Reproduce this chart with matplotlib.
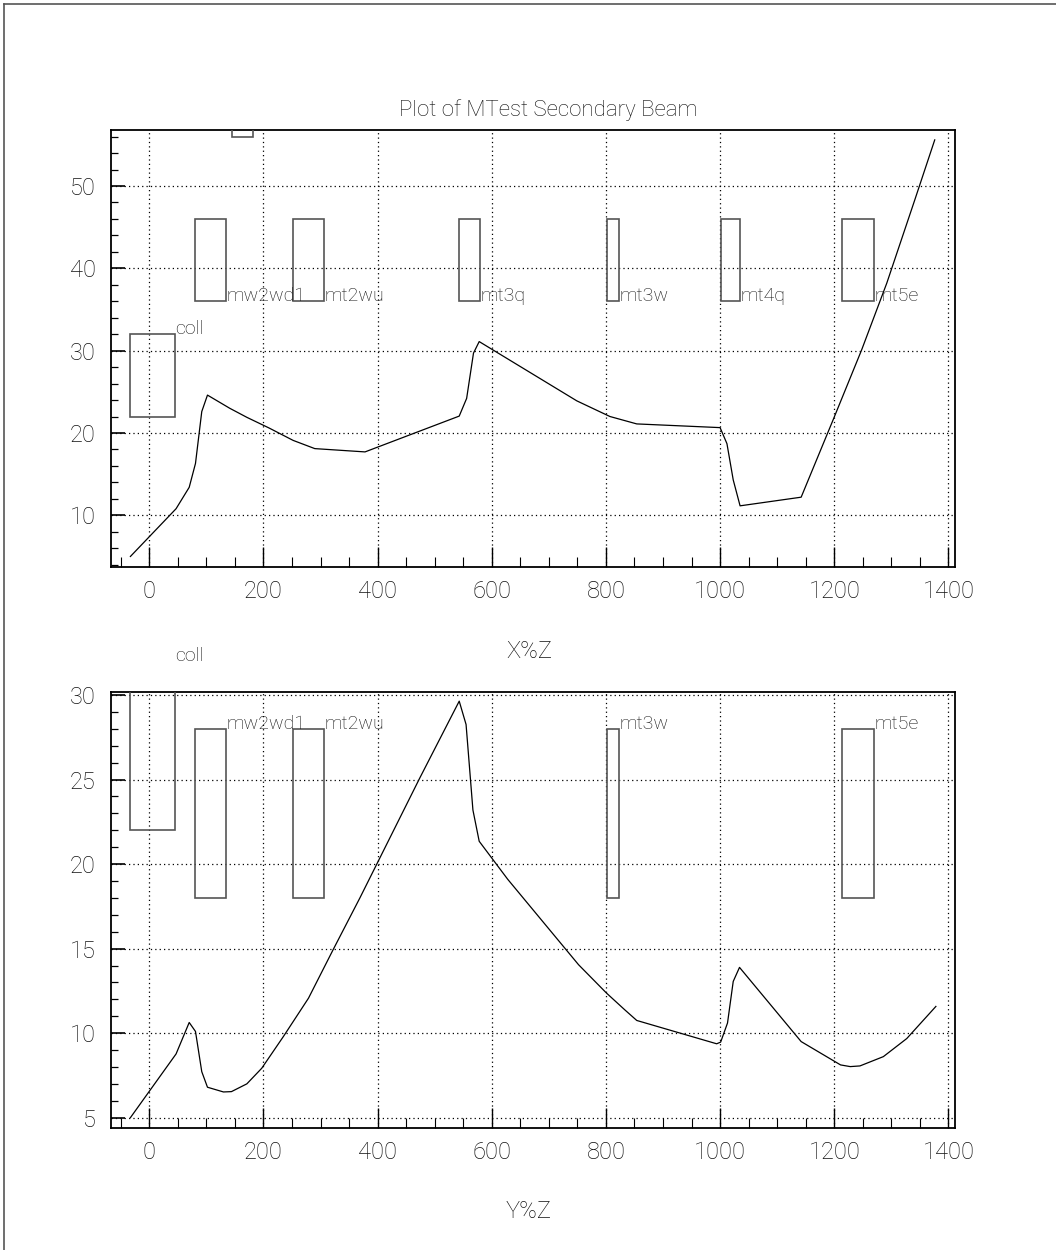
import matplotlib
matplotlib.use("Agg")
import matplotlib.pyplot as plt
from matplotlib.patches import Rectangle
from matplotlib.lines import Line2D
import numpy as np

plt.rcParams['font.family'] = ['Roboto', 'DejaVu Sans']
plt.rcParams['font.weight'] = 'light'

# ---- beam envelope data ----
zx = [-33, 47, 70, 81, 92, 102, 141, 171, 210, 252, 290, 378, 543, 556, 568, 578,
      749, 807, 854, 1000, 1012, 1023, 1035, 1142, 1198, 1248, 1292, 1341, 1376]
xz = [5.0, 10.8, 13.4, 16.3, 22.6, 24.6, 23.0, 21.9, 20.6, 19.1, 18.1, 17.7, 22.05, 24.2, 29.7, 31.1,
      23.9, 22.0, 21.1, 20.65, 18.7, 14.3, 11.15, 12.2, 21.6, 30.1, 38.2, 48.3, 55.6]

zy = [-33, 47, 70, 81, 92, 102, 130, 144, 171, 197, 235, 279, 322, 369, 474, 543, 555, 567, 578,
      628, 752, 801, 833, 854, 994, 1001, 1013, 1023, 1034, 1142, 1211, 1228, 1245, 1286, 1327, 1378]
yz = [5.0, 8.77, 10.63, 10.1, 7.72, 6.8, 6.52, 6.54, 7.0, 7.92, 9.8, 12.07, 14.93, 18.0, 25.1, 29.64, 28.26, 23.2, 21.35,
      19.1, 14.05, 12.37, 11.38, 10.75, 9.37, 9.47, 10.6, 13.06, 13.89, 9.5, 8.12, 8.02, 8.06, 8.61, 9.68, 11.58]

# ---- beam-line elements ----
elem_names = ["coll", "mw2wd1", "mt2wu", "mt3q", "mt3w", "mt4q", "mt5e", ""]
elem_zlo = [-33, 81, 252, 543, 802, 1001, 1213, 145]
elem_zhi = [45, 134, 306, 579, 823, 1034, 1270, 181]
# X view apertures (lo, hi) and label height
x_lo = [22, 36, 36, 36, 36, 36, 36, 55.9]
x_hi = [32, 46, 46, 46, 46, 46, 46, 66]
x_lab = [32, 36, 36, 36, 36, 36, 36, None]
# Y view apertures (None = not drawn)
y_lo = [22, 18, 18, None, 18, None, 18, None]
y_hi = [32, 28, 28, None, 28, None, 28, None]
y_lab = [32, 28, 28, None, 28, None, 28, None]

title = "Plot of MTest Secondary Beam"
xlabel_top = "X%Z"
xlabel_bot = "Y%Z"

W, H = 1056, 1250
fig = plt.figure(figsize=(W / 100, H / 100), dpi=100)

def px2fig(x0, y0, x1, y1):
    return [x0 / W, 1 - y1 / H, (x1 - x0) / W, (y1 - y0) / H]

ax1 = fig.add_axes(px2fig(111, 130, 955, 567))
ax2 = fig.add_axes(px2fig(111, 691.7, 955, 1128.3))

XLIM = (-67, 1411.5)
BOXC = '#555555'
LBL_FS = 14
TICK_FS = 17

def style(ax, ymaj, ymin_, ylim):
    ax.set_xlim(*XLIM)
    ax.set_ylim(*ylim)
    ax.set_xticks(np.arange(0, 1401, 200))
    ax.set_xticks(np.arange(-50, 1401, 50), minor=True)
    ax.set_yticks(ymaj)
    ax.set_yticks(ymin_, minor=True)
    ax.tick_params(axis='x', which='major', direction='in', length=14.4, width=1.0,
                   labelsize=TICK_FS, pad=9, top=False, labelcolor='#111111')
    ax.tick_params(axis='x', which='minor', direction='in', length=7.2, width=0.8, top=False)
    ax.tick_params(axis='y', which='major', direction='in', length=10, width=1.2,
                   labelsize=TICK_FS, pad=11, right=False, labelcolor='#111111')
    ax.tick_params(axis='y', which='minor', direction='in', length=5, width=0.9, right=False)
    for s in ax.spines.values():
        s.set_linewidth(1.3)
    ax.grid(True, which='major', color='black', linestyle=(0, (1, 2.5)), linewidth=0.9)
    ax.set_axisbelow(False)

style(ax1, np.arange(10, 51, 10), np.arange(4, 57, 2), (3.72, 56.8))
style(ax2, np.arange(5, 31, 5), np.arange(5, 31, 1), (4.37, 30.2))

ax1.plot(zx, xz, color='black', linewidth=0.9, zorder=5)
ax2.plot(zy, yz, color='black', linewidth=0.9, zorder=5)

for i, nm in enumerate(elem_names):
    zl, zh = elem_zlo[i], elem_zhi[i]
    ax1.add_patch(Rectangle((zl, x_lo[i]), zh - zl, x_hi[i] - x_lo[i], fill=False,
                            edgecolor=BOXC, linewidth=1.2, zorder=4))
    if nm and x_lab[i] is not None:
        ax1.text(zh + 1, x_lab[i], nm, fontsize=LBL_FS, ha='left', va='baseline',
                 color='#111111', zorder=6)
    if y_lo[i] is not None:
        ax2.add_patch(Rectangle((zl, y_lo[i]), zh - zl, y_hi[i] - y_lo[i], fill=False,
                                edgecolor=BOXC, linewidth=1.2, zorder=4))
        if nm:
            ax2.text(zh + 1, y_lab[i], nm, fontsize=LBL_FS, ha='left', va='baseline',
                     color='#111111', zorder=6, clip_on=False)

fig.text(548 / W, 1 - 110 / H, title, fontsize=16, ha='center', va='center', color='#111111')
fig.text(529 / W, 1 - 652 / H, xlabel_top, fontsize=17, ha='center', va='center', color='#111111')
fig.text(529 / W, 1 - 1212 / H, xlabel_bot, fontsize=17, ha='center', va='center', color='#111111')

# page frame (left and top edges)
fig.add_artist(Line2D([4 / W, 4 / W], [0, 1 - 4 / H], transform=fig.transFigure,
                      color='#555555', linewidth=1.2))
fig.add_artist(Line2D([4 / W, 1], [1 - 4 / H, 1 - 4 / H], transform=fig.transFigure,
                      color='#555555', linewidth=1.2))

fig.savefig("out.png", dpi=100)
